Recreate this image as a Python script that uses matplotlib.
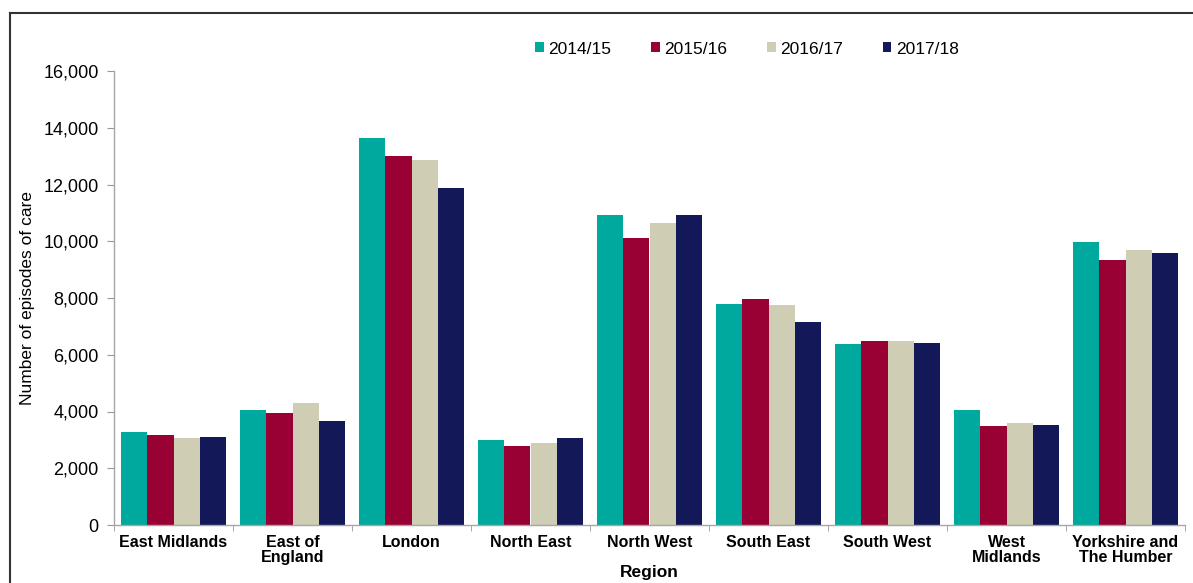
import matplotlib
matplotlib.use("Agg")
import matplotlib.pyplot as plt
from matplotlib.lines import Line2D
from matplotlib.ticker import FuncFormatter, MultipleLocator, FixedLocator
import numpy as np

regions = ["East Midlands", "East of\nEngland", "London", "North East", "North West",
           "South East", "South West", "West\nMidlands", "Yorkshire and\nThe Humber"]
years = ["2014/15", "2015/16", "2016/17", "2017/18"]
v_2014_15 = [3290, 4040, 13650, 3010, 10910, 7800, 6390, 4040, 9990]
v_2015_16 = [3180, 3935, 12990, 2800, 10100, 7965, 6500, 3500, 9340]
v_2016_17 = [3080, 4290, 12860, 2880, 10630, 7750, 6470, 3580, 9700]
v_2017_18 = [3090, 3655, 11890, 3070, 10910, 7140, 6430, 3510, 9590]
series = [v_2014_15, v_2015_16, v_2016_17, v_2017_18]
colors = ["#00A99D", "#990033", "#CFCDB4", "#121858"]

plt.rcParams['font.family'] = ['Liberation Sans', 'DejaVu Sans']

fig = plt.figure(figsize=(11.93, 5.83), dpi=100)
W, H = 1193, 583
ax = fig.add_axes([114 / W, 1 - 525 / H, (1185 - 114) / W, (525 - 71) / H])

x = np.arange(len(regions))
w = 0.222
for i, (vals, c, lab) in enumerate(zip(series, colors, years)):
    ax.bar(x + (i - 1.5) * w, vals, width=w, color=c, label=lab, linewidth=0)

ax.set_xlim(-0.5, len(regions) - 0.5)
ax.set_ylim(0, 16000)
ax.yaxis.set_major_locator(MultipleLocator(2000))
ax.yaxis.set_major_formatter(FuncFormatter(lambda v, p: f"{int(v):,}"))
ax.set_xticks(x)
ax.set_xticklabels(regions, fontweight="bold", fontsize=11.5, linespacing=1.0)
ax.xaxis.set_minor_locator(FixedLocator(np.arange(-0.5, len(regions), 1.0)))
ax.tick_params(axis="x", which="major", length=0, pad=7)
ax.tick_params(axis="x", which="minor", length=4, color="#999999", direction="out")
ax.tick_params(axis="y", length=5, color="#999999", labelsize=13, pad=6)

for s in ["top", "right"]:
    ax.spines[s].set_visible(False)
for s in ["left", "bottom"]:
    ax.spines[s].set_color("#A6A6A6")
    ax.spines[s].set_linewidth(1.0)

ax.set_xlabel("Region", fontweight="bold", fontsize=12.5, labelpad=0)
ax.set_ylabel("Number of episodes of care", fontsize=12.5,
              family=["Liberation Sans Narrow", "Liberation Sans", "DejaVu Sans"], labelpad=6)

leg = ax.legend(loc="center left", bbox_to_anchor=(535 / W, 1 - 49 / H), bbox_transform=fig.transFigure,
                ncol=4, frameon=False, fontsize=12.5, handlelength=0.5, handleheight=0.5,
                handletextpad=0.25, columnspacing=2.3, borderpad=0, borderaxespad=0)

# figure border (top & left visible)
fig.add_artist(Line2D([10 / W, 1.0], [1 - 13 / H, 1 - 13 / H], transform=fig.transFigure,
                      color="#333333", lw=1.5))
fig.add_artist(Line2D([10 / W, 10 / W], [1 - 13 / H, 0.0], transform=fig.transFigure,
                      color="#333333", lw=1.5))

fig.savefig("out.png", dpi=100)
